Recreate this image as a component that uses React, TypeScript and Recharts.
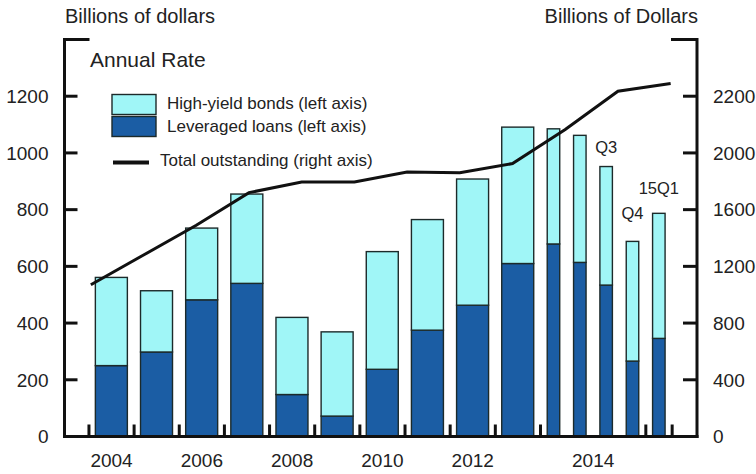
import React from 'react';
import { ComposedChart, Bar, Line, XAxis, YAxis, Legend, LabelList } from 'recharts';

// ---------- data ----------
const periods = ['2004', '2005', '2006', '2007', '2008', '2009', '2010', '2011', '2012', '2013', '14Q1', '14Q2', '14Q3', '14Q4', '15Q1'];
const leveragedLoans = [250, 298, 482, 540, 148, 72, 237, 375, 463, 610, 679, 614, 534, 266, 346];
const highYieldBonds = [311, 216, 253, 315, 272, 297, 415, 390, 445, 481, 406, 448, 418, 422, 441];
const periodNotes = ['', '', '', '', '', '', '', '', '', '', '', '', 'Q3', 'Q4', '15Q1'];

const lineYears = ['2003', '2004', '2005', '2006', '2007', '2008', '2009', '2010', '2011', '2012', '2013', '2014'];
const totalOutstanding = [1070, 1280, 1490, 1720, 1795, 1795, 1865, 1860, 1925, 2165, 2435, 2490];

const leftTicks = [0, 200, 400, 600, 800, 1000, 1200, 1400];
const leftTickLabels = ['0', '200', '400', '600', '800', '1000', '1200', ''];
const rightTicks = [0, 400, 800, 1200, 1600, 2000, 2400, 2800];
const rightTickLabels = ['0', '400', '800', '1200', '1600', '2000', '2200', ''];

const seriesNames = {
  hy: 'High-yield bonds (left axis)',
  loans: 'Leveraged loans (left axis)',
  total: 'Total outstanding (right axis)',
};

// ---------- styles ----------
const FONT = "'Liberation Sans', Arial, sans-serif";
const TEXT = '#222';
const LIGHT = '#A0F6F7';
const DARK = '#1B5DA4';
const OUTLINE = '#1c2a2a';
const AXIS = '#111';
const YEAR_SPAN = 12;
const QUARTER_SPAN = 7;
const YEAR_BAR_W = 32;
const QUARTER_BAR_W = 12.5;

// ---------- derived layout (computed, not typed) ----------
let cursor = 0;
const barData = periods.map((p, i) => {
  const isQuarter = p.includes('Q');
  const span = isQuarter ? QUARTER_SPAN : YEAR_SPAN;
  const group = isQuarter ? '20' + p.slice(0, 2) : p;
  const row = {
    period: p,
    group,
    kind: isQuarter ? 'quarter' : 'year',
    start: cursor,
    pos: cursor + span / 2,
    loans: leveragedLoans[i],
    hy: highYieldBonds[i],
    note: periodNotes[i],
  };
  cursor += span;
  return row;
});
const xEnd = cursor;

const groups: { name: string; start: number; end: number }[] = [];
barData.forEach((r) => {
  const span = r.kind === 'quarter' ? QUARTER_SPAN : YEAR_SPAN;
  const last = groups[groups.length - 1];
  if (last && last.name === r.group) last.end = r.start + span;
  else groups.push({ name: r.group, start: r.start, end: r.start + span });
});
const boundaryTicks = [...groups.map((g) => g.start), xEnd];
const labelMap = new Map<number, string>();
groups.forEach((g) => {
  if (Number(g.name) % 2 === 0) labelMap.set((g.start + g.end) / 2, g.name);
});
const xTicks = [...boundaryTicks, ...Array.from(labelMap.keys())].sort((a, b) => a - b);

const lineData = lineYears.map((y, i) => ({ year: y, total: totalOutstanding[i] }));

// ---------- renderers ----------
const BarShape = (props: any) => {
  const { x, y, width, height, payload, fill } = props;
  if (height == null || isNaN(height)) return null;
  const w = payload.kind === 'year' ? YEAR_BAR_W : QUARTER_BAR_W;
  const cx = x + width / 2;
  return <rect x={cx - w / 2} y={y} width={w} height={height} fill={fill} stroke={OUTLINE} strokeWidth={1.4} />;
};

const XTick = (props: any) => {
  const { x, y, payload } = props;
  const label = labelMap.get(payload.value);
  if (label) {
    return (
      <text x={x} y={y + 30.5} textAnchor="middle" fontSize={19} fill={TEXT} fontFamily={FONT}>
        {label}
      </text>
    );
  }
  return <line x1={x} x2={x} y1={y} y2={y - 12} stroke={AXIS} strokeWidth={3} />;
};

const LeftTick = (props: any) => {
  const { x, y, payload } = props;
  const idx = leftTicks.indexOf(payload.value);
  const label = leftTickLabels[idx];
  const isTop = idx === leftTicks.length - 1;
  return (
    <g>
      <line x1={x} x2={x + (isTop ? 25 : 13)} y1={y} y2={y} stroke={AXIS} strokeWidth={3} />
      {label ? (
        <text x={x - 16} y={y} dy="0.36em" textAnchor="end" fontSize={19} fill={TEXT} fontFamily={FONT}>
          {label}
        </text>
      ) : null}
    </g>
  );
};

const RightTick = (props: any) => {
  const { x, y, payload } = props;
  const idx = rightTicks.indexOf(payload.value);
  const label = rightTickLabels[idx];
  const isTop = idx === rightTicks.length - 1;
  return (
    <g>
      <line x1={x} x2={x - (isTop ? 26 : 14)} y1={y} y2={y} stroke={AXIS} strokeWidth={3} />
      {label ? (
        <text x={x + 16} y={y} dy="0.36em" textAnchor="start" fontSize={19} fill={TEXT} fontFamily={FONT}>
          {label}
        </text>
      ) : null}
    </g>
  );
};

const noteLift: Record<string, number> = { Q3: 14, Q4: 22, '15Q1': 19 };
const NoteLabel = (props: any) => {
  const { x, y, width, value } = props;
  if (!value) return null;
  return (
    <text x={x + width / 2} y={y - (noteLift[value] ?? 16)} textAnchor="middle" fontSize={16.5} fill={TEXT} fontFamily={FONT}>
      {value}
    </text>
  );
};

const legendOrder = ['hy', 'loans', 'total'];
const LegendContent = (props: any) => {
  const payload = (props.payload || []).slice().sort(
    (a: any, b: any) => legendOrder.indexOf(a.dataKey) - legendOrder.indexOf(b.dataKey)
  );
  const rows: Record<string, { box: number; base: number }> = {
    hy: { box: 9.5, base: 24 },
    loans: { box: 31.5, base: 46.5 },
    total: { box: 77.5, base: 81 },
  };
  return (
    <svg width={300} height={95} style={{ display: 'block', overflow: 'visible' }}>
      {payload.map((e: any) => {
        const r = rows[e.dataKey];
        if (!r) return null;
        if (e.type === 'line') {
          return (
            <g key={e.dataKey}>
              <line x1={13} x2={49} y1={r.box} y2={r.box} stroke={AXIS} strokeWidth={4} />
              <text x={60} y={r.base} fontSize={17} fill={TEXT} fontFamily={FONT}>
                {e.value}
              </text>
            </g>
          );
        }
        return (
          <g key={e.dataKey}>
            <rect x={12} y={r.box} width={44} height={20} fill={e.color} stroke={OUTLINE} strokeWidth={1.4} />
            <text x={67} y={r.base} fontSize={17} fill={TEXT} fontFamily={FONT}>
              {e.value}
            </text>
          </g>
        );
      })}
    </svg>
  );
};

export default function App() {
  return (
    <div style={{ position: 'absolute', left: 0, top: 0, width: 756, height: 474, background: '#fff', fontFamily: FONT }}>
      <ComposedChart
        width={756}
        height={474}
        data={barData}
        margin={{ top: 39.5, right: 4, bottom: 7.5, left: 4.5 }}
      >
        <XAxis
          xAxisId="pos"
          type="number"
          dataKey="pos"
          domain={[-6.5, xEnd + 6.6]}
          allowDataOverflow
          ticks={xTicks}
          interval={0}
          tickSize={0}
          tickMargin={0}
          tickLine={false}
          tick={XTick}
          axisLine={{ stroke: AXIS, strokeWidth: 3, strokeLinecap: 'square' }}
          height={30}
        />
        <XAxis xAxisId="line" type="category" dataKey="year" hide height={0} />
        <YAxis
          yAxisId="left"
          orientation="left"
          domain={[0, 1400]}
          allowDataOverflow
          ticks={leftTicks}
          interval={0}
          tickSize={0}
          tickMargin={0}
          tickLine={false}
          tick={LeftTick}
          axisLine={{ stroke: AXIS, strokeWidth: 3, strokeLinecap: 'square' }}
          width={60}
        />
        <YAxis
          yAxisId="right"
          orientation="right"
          domain={[0, 2800]}
          allowDataOverflow
          ticks={rightTicks}
          interval={0}
          tickSize={0}
          tickMargin={0}
          tickLine={false}
          tick={RightTick}
          axisLine={{ stroke: AXIS, strokeWidth: 3, strokeLinecap: 'square' }}
          width={55}
        />
        <Bar
          xAxisId="pos"
          yAxisId="left"
          dataKey="loans"
          name={seriesNames.loans}
          stackId="s"
          fill={DARK}
          barSize={10}
          shape={BarShape}
          isAnimationActive={false}
        />
        <Bar
          xAxisId="pos"
          yAxisId="left"
          dataKey="hy"
          name={seriesNames.hy}
          stackId="s"
          fill={LIGHT}
          barSize={10}
          shape={BarShape}
          isAnimationActive={false}
        >
          <LabelList dataKey="note" content={NoteLabel} />
        </Bar>
        <Line
          xAxisId="line"
          yAxisId="right"
          data={lineData}
          dataKey="total"
          name={seriesNames.total}
          type="linear"
          stroke={AXIS}
          strokeWidth={3}
          dot={false}
          legendType="line"
          isAnimationActive={false}
        />
        <Legend
          layout="vertical"
          align="center"
          verticalAlign="middle"
          content={LegendContent}
          wrapperStyle={{ position: 'absolute', left: 100, top: 85, width: 300, height: 95 }}
        />
      </ComposedChart>
      <svg
        width={756}
        height={474}
        style={{ position: 'absolute', left: 0, top: 0, pointerEvents: 'none' }}
      >
        <text x={65} y={23} fontSize={20} fill={TEXT} fontFamily={FONT}>Billions of dollars</text>
        <text x={698} y={23} fontSize={20} fill={TEXT} fontFamily={FONT} textAnchor="end">Billions of Dollars</text>
        <text x={90} y={67} fontSize={21} fill={TEXT} fontFamily={FONT}>Annual Rate</text>
      </svg>
    </div>
  );
}
